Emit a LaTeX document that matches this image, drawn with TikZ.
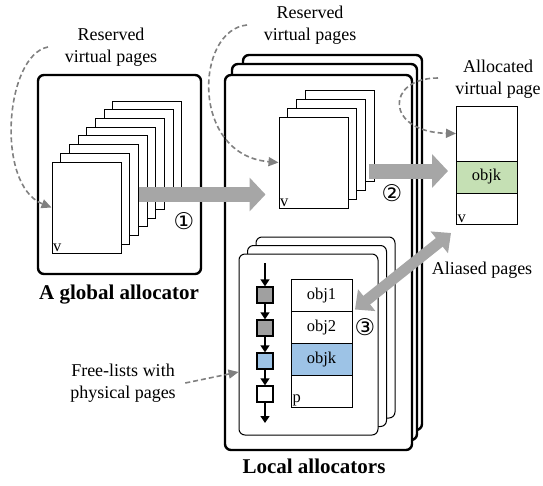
\documentclass[tikz,border=0pt]{standalone}
\usepackage{fontspec}
\setmainfont{Liberation Serif}
\newfontfamily\circfont{DejaVu Sans}
\usepackage{xcolor}
\usepackage{tikz}
\usetikzlibrary{calc,arrows.meta,positioning}
\definecolor{arrowgray}{HTML}{A6A6A6}
\definecolor{dashgray}{HTML}{808080}
\definecolor{listgray}{HTML}{A0A0A0}
\definecolor{objblue}{HTML}{9DC3E6}
\definecolor{objgreen}{HTML}{C5E0B4}
\tikzset{
  outerbox/.style={draw, line width=2.4pt, rounded corners=6pt, fill=white, inner sep=0pt},
  innerbox/.style={draw, line width=1pt, rounded corners=6pt, fill=white, inner sep=0pt,
    minimum width=139pt, minimum height=181pt},
  page/.style={draw, line width=1pt, fill=white, inner sep=0pt, minimum width=69pt, minimum height=91pt},
  obj/.style={draw, line width=1pt, inner sep=0pt, outer sep=0pt, minimum width=61pt, minimum height=32pt,
    font=\fontsize{16.5}{18}\selectfont},
  chainsq/.style={draw, line width=1.3pt, inner sep=0pt, minimum size=16pt},
  chainarr/.style={line width=1.3pt, -{Triangle[length=7pt,width=9pt]}},
  fatarrow/.style={draw=arrowgray, line width=15pt, -{Triangle[length=16pt,width=33pt]}},
  aliasarrow/.style={draw=arrowgray, line width=11pt,
    {Triangle[length=15pt,width=27pt]}-{Triangle[length=15pt,width=27pt]}},
  dashcurve/.style={draw=dashgray, line width=1.6pt, dash pattern=on 5pt off 3pt,
    -{Triangle[length=10pt,width=9pt]}},
  labm/.style={align=center, font=\fontsize{18}{22}\selectfont},
  labb/.style={font=\fontsize{21}{24}\selectfont\bfseries},
  labs/.style={inner sep=1.5pt, font=\fontsize{16.5}{18}\selectfont},
  circnum/.style={inner sep=0pt, font=\circfont\fontsize{23}{23}\selectfont}
}
\begin{document}
\begin{tikzpicture}[x=1pt, y=-1pt]
  \useasboundingbox (0,0) rectangle (543,485);

  % global allocator
  \node[outerbox, minimum width=163pt, minimum height=199pt] (gbox) at (119.5,174.5) {};
  \foreach \i in {7,6,...,0}
    \node[page] (gpage\i) at ($(86.5,207.5)+(8.7*\i,-8.7*\i)$) {};
  \node[labs, anchor=south west] (gv) at (gpage0.south west) {v};
  \node[labb] (gname) at (119,295) {A global allocator};
  \node[labm] (gres) at (111,47) {Reserved\\virtual pages};

  % local allocators
  \node[outerbox, minimum width=179pt, minimum height=375pt] (lbox2) at (332.5,242.5) {};
  \node[outerbox, minimum width=185pt, minimum height=376pt] (lbox1) at (324.5,252) {};
  \node[outerbox, minimum width=187pt, minimum height=375pt] (lbox0) at (318.5,262.5) {};
  \foreach \i in {3,2,1,0}
    \node[page] (lpage\i) at ($(313.5,162.5)+(8.7*\i,-8.7*\i)$) {};
  \node[labs, anchor=south west] (lv) at (lpage0.south west) {v};
  \node[labm] (lres) at (310,25) {Reserved\\virtual pages};
  \node[labb] (lname) at (314,466) {Local allocators};

  \foreach \i in {2,1,0}
    \node[innerbox] (ibox\i) at ($(308.5,344.5)+(8.5*\i,-8.5*\i)$) {};

  % free list
  \coordinate (ltop) at (265,263);
  \node[chainsq, fill=listgray] (sq1) at (265,295) {};
  \node[chainsq, fill=listgray] (sq2) at (265,328) {};
  \node[chainsq, fill=objblue] (sq3) at (265,361) {};
  \node[chainsq, fill=white] (sq4) at (265,394) {};
  \coordinate (lend) at (265,423);
  \draw[chainarr] (ltop) -- (sq1);
  \draw[chainarr] (sq1) -- (sq2);
  \draw[chainarr] (sq2) -- (sq3);
  \draw[chainarr] (sq3) -- (sq4);
  \draw[chainarr] (sq4) -- (lend);

  % objects on the physical page
  \node[obj] (obj1) at (321.5,295.5) {obj1};
  \node[obj, below=0pt of obj1] (obj2) {obj2};
  \node[obj, below=0pt of obj2, fill=objblue] (objk) {objk};
  \node[obj, below=0pt of objk] (objp) {};
  \node[labs, anchor=south west] (pp) at (objp.south west) {p};

  % allocated virtual page
  \node[obj, minimum height=55pt] (vtop) at (486.5,133.5) {};
  \node[obj, below=0pt of vtop, fill=objgreen] (vobj) {objk};
  \node[obj, below=0pt of vobj, minimum height=31pt] (vbot) {};
  \node[labs, anchor=south west] (vv) at (vbot.south west) {v};
  \node[labm] (vres) at (498,79) {Allocated\\virtual page};

  % big arrows
  \draw[fatarrow] ($(gpage0.east)+(17,-13)$) -- ($(lpage0.west)+(-13,32)$);
  \draw[fatarrow] ($(lpage0.east)+(20,8.5)$) -- ($(vobj.west)+(-8,-6)$);
  \draw[aliasarrow] ($(obj1.south east)+(3,-2)$) -- ($(vbot.south west)+(-5,9)$);
  \node[labm] (alias) at (482,270) {Aliased pages};

  \node[circnum] (n1) at (184,221) {①};
  \node[circnum] (n2) at (392,193) {②};
  \node[circnum] (n3) at (365,327) {③};

  % dashed pointers
  \coordinate (c1) at (48,47);
  \coordinate (c2) at (247,25);
  \coordinate (c3) at (438,78);
  \draw[dashcurve] (c1) .. controls (5,55) and (-5,185) .. (gpage0.west);
  \draw[dashcurve] (c2) .. controls (195,30) and (190,155) .. (lpage0.west);
  \draw[dashcurve] (c3) .. controls (385,78) and (385,132) .. (vtop.west);
  \node[labm] (flab) at (123,383) {Free-lists with\\physical pages};
  \draw[dashcurve] ($(flab.east)+(6,0)$) -- ($(ibox0.west)+(0,27.5)$);
\end{tikzpicture}
\end{document}
